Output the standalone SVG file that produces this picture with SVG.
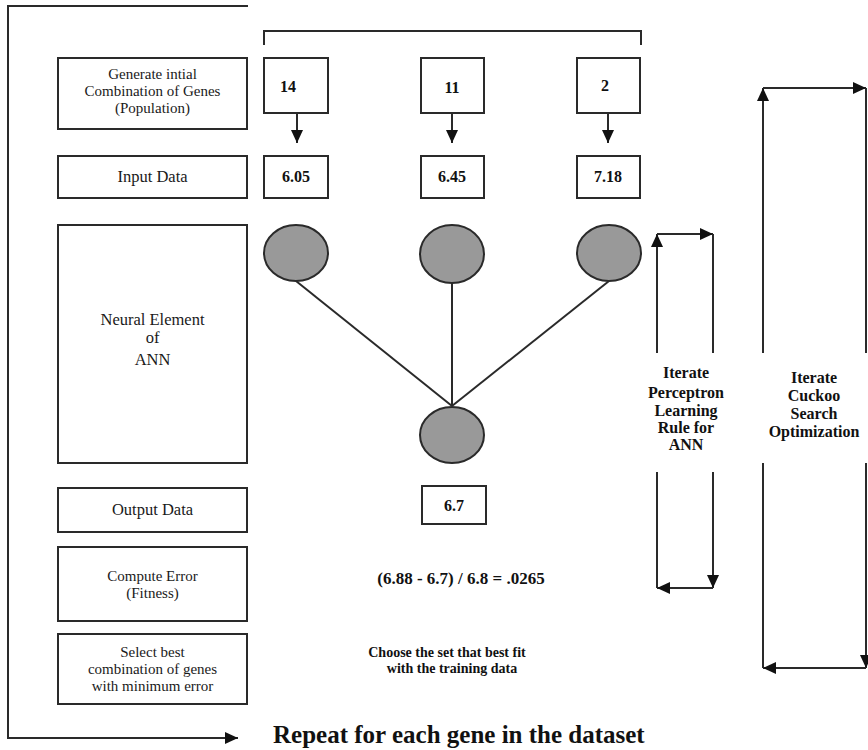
<svg xmlns="http://www.w3.org/2000/svg" width="868" height="750" viewBox="0 0 868 750">
<style>
.box{fill:#fff;stroke:#2a2a2a;stroke-width:2}
.ln{fill:none;stroke:#2a2a2a;stroke-width:2}
.neuron{fill:#999;stroke:#2a2a2a;stroke-width:2}
.lbl{font-family:"Liberation Serif","Times New Roman",serif;font-weight:normal;font-size:15px;fill:#1a1a1a;text-anchor:middle}
.lbl-l{font-size:16.5px}
.b{font-family:"Liberation Serif","Times New Roman",serif;font-weight:bold;fill:#111;text-anchor:middle}
</style>
<defs>
<marker id="ah" markerUnits="userSpaceOnUse" markerWidth="14" markerHeight="14" viewBox="0 0 14 14" refX="13" refY="7" orient="auto">
<path d="M0,1 L13,7 L0,13 Z" fill="#111"/>
</marker>
</defs>
<rect width="868" height="750" fill="#fff"/>

<g id="connectors">
<polyline class="ln" points="248,6 8,6 8,738 238,738" marker-end="url(#ah)"/>
<polyline class="ln" points="264,45 264,31 641,31 641,45"/>
<line class="ln" x1="297" y1="113" x2="297" y2="143" marker-end="url(#ah)"/>
<line class="ln" x1="452" y1="113" x2="452" y2="143" marker-end="url(#ah)"/>
<line class="ln" x1="608" y1="113" x2="608" y2="143" marker-end="url(#ah)"/>
<line class="ln" x1="296" y1="281" x2="452" y2="406"/>
<line class="ln" x1="452" y1="283" x2="452" y2="406"/>
<line class="ln" x1="609" y1="281" x2="452" y2="406"/>
<line class="ln" x1="657" y1="353" x2="657" y2="234" marker-end="url(#ah)"/>
<line class="ln" x1="657" y1="234" x2="713" y2="234" marker-end="url(#ah)"/>
<line class="ln" x1="713" y1="234" x2="713" y2="353"/>
<line class="ln" x1="657" y1="472" x2="657" y2="588"/>
<line class="ln" x1="713" y1="472" x2="713" y2="588" marker-end="url(#ah)"/>
<line class="ln" x1="713" y1="588" x2="657" y2="588" marker-end="url(#ah)"/>
<line class="ln" x1="763" y1="353" x2="763" y2="88" marker-end="url(#ah)"/>
<line class="ln" x1="763" y1="88" x2="866" y2="88" marker-end="url(#ah)"/>
<line class="ln" x1="866" y1="88" x2="866" y2="353"/>
<line class="ln" x1="763" y1="463" x2="763" y2="668"/>
<line class="ln" x1="866" y1="463" x2="866" y2="668" marker-end="url(#ah)"/>
<line class="ln" x1="866" y1="668" x2="763" y2="668" marker-end="url(#ah)"/>
</g>

<g id="step-generate">
<rect class="box" x="58" y="58" width="189" height="71"/>
<text class="lbl" x="152.5" y="79">Generate intial</text>
<text class="lbl" x="152.5" y="96">Combination of Genes</text>
<text class="lbl" x="152.5" y="113">(Population)</text>
</g>
<g id="step-input">
<rect class="box" x="58" y="156" width="189" height="42"/>
<text class="lbl lbl-l" x="152.5" y="182">Input Data</text>
</g>
<g id="step-neural">
<rect class="box" x="58" y="225" width="189" height="238"/>
<text class="lbl lbl-l" x="152.5" y="325">Neural Element</text>
<text class="lbl lbl-l" x="152.5" y="343">of</text>
<text class="lbl lbl-l" x="152.5" y="365">ANN</text>
</g>
<g id="step-output">
<rect class="box" x="58" y="488" width="189" height="44"/>
<text class="lbl lbl-l" x="152.5" y="515">Output Data</text>
</g>
<g id="step-error">
<rect class="box" x="58" y="547" width="189" height="74"/>
<text class="lbl" x="152.5" y="581">Compute Error</text>
<text class="lbl" x="152.5" y="598">(Fitness)</text>
</g>
<g id="step-select">
<rect class="box" x="58" y="634" width="189" height="70"/>
<text class="lbl" x="152.5" y="657">Select best</text>
<text class="lbl" x="152.5" y="674">combination of genes</text>
<text class="lbl" x="152.5" y="691">with minimum error</text>
</g>

<g id="gene-14">
<rect class="box" x="264" y="58" width="64" height="55"/>
<text class="b" x="288" y="92" font-size="16">14</text>
</g>
<g id="gene-11">
<rect class="box" x="421" y="58" width="63" height="55"/>
<text class="b" x="452" y="93" font-size="16">11</text>
</g>
<g id="gene-2">
<rect class="box" x="577" y="58" width="63" height="55"/>
<text class="b" x="605" y="91" font-size="16">2</text>
</g>
<g id="input-605">
<rect class="box" x="264" y="156" width="64" height="42"/>
<text class="b" x="296" y="182" font-size="16">6.05</text>
</g>
<g id="input-645">
<rect class="box" x="421" y="156" width="63" height="42"/>
<text class="b" x="452" y="182" font-size="16">6.45</text>
</g>
<g id="input-718">
<rect class="box" x="577" y="156" width="63" height="42"/>
<text class="b" x="608" y="182" font-size="16">7.18</text>
</g>

<g id="neuron-1"><ellipse class="neuron" cx="296" cy="253" rx="32" ry="28"/></g>
<g id="neuron-2"><ellipse class="neuron" cx="452" cy="254" rx="32" ry="29"/></g>
<g id="neuron-3"><ellipse class="neuron" cx="609" cy="253" rx="32" ry="28"/></g>
<g id="neuron-out"><ellipse class="neuron" cx="452" cy="435" rx="32" ry="28"/></g>

<g id="output-value">
<rect class="box" x="422" y="486" width="64" height="38"/>
<text class="b" x="454" y="511" font-size="16">6.7</text>
</g>
<g id="error-formula">
<text class="b" x="461" y="584" font-size="17">(6.88 - 6.7) / 6.8 = .0265</text>
</g>
<g id="choose-text">
<text class="b" x="447" y="657" font-size="14">Choose the set that best fit</text>
<text class="b" x="452" y="673" font-size="14">with the training data</text>
</g>

<g id="label-perceptron">
<text class="b" x="686" y="378" font-size="16">Iterate</text>
<text class="b" x="686" y="398" font-size="16">Perceptron</text>
<text class="b" x="686" y="416" font-size="16">Learning</text>
<text class="b" x="686" y="433" font-size="16">Rule for</text>
<text class="b" x="686" y="450" font-size="16">ANN</text>
</g>
<g id="label-cuckoo">
<text class="b" x="814" y="383" font-size="16">Iterate</text>
<text class="b" x="814" y="401" font-size="16">Cuckoo</text>
<text class="b" x="814" y="419" font-size="16">Search</text>
<text class="b" x="814" y="437" font-size="16">Optimization</text>
</g>

<g id="repeat-label">
<text class="b" x="273" y="743" font-size="25" style="text-anchor:start">Repeat for each gene in the dataset</text>
</g>
</svg>
